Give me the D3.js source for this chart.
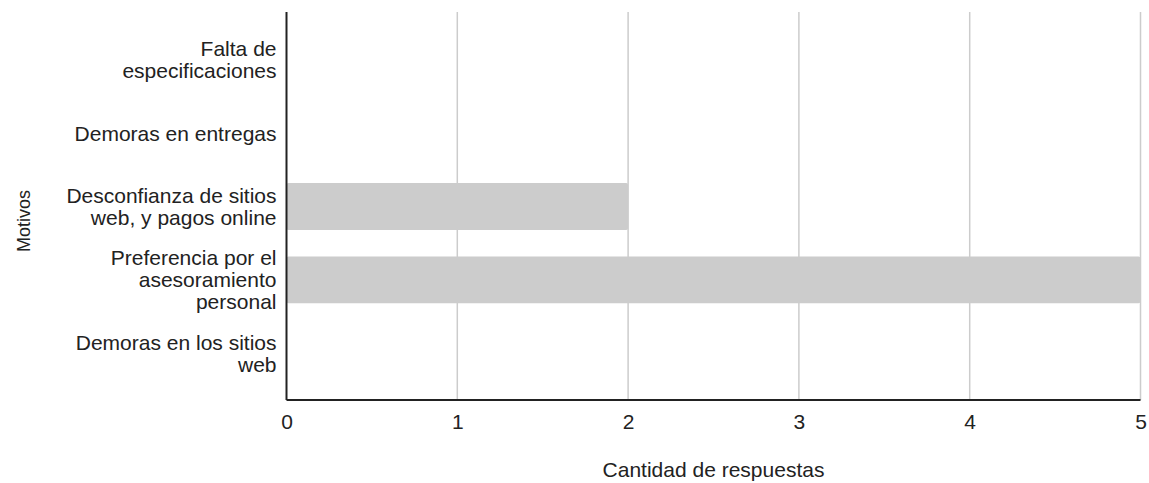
<!DOCTYPE html>
<html>
<head>
<meta charset="utf-8">
<script src="https://cdn.jsdelivr.net/npm/d3@7"></script>
<style>
  html, body { margin: 0; padding: 0; background: #fff; }
  svg { display: block; font-family: "Liberation Sans", Arial, sans-serif; }
</style>
</head>
<body>
<svg id="chart" width="1149" height="483"></svg>
<script>
// Motivos por los que no se compra en línea
const categories = [
  "Falta de especificaciones",
  "Demoras en entregas",
  "Desconfianza de sitios web, y pagos online",
  "Preferencia por el asesoramiento personal",
  "Demoras en los sitios web"
];
const values = [0, 0, 2, 5, 0];
const xTicks = [0, 1, 2, 3, 4, 5];
const xTitle = "Cantidad de respuestas";
const yTitle = "Motivos";

const svg = d3.select("#chart");
const plot = { left: 286.5, right: 1140.5, top: 12, bottom: 400 };
const fontSize = 21;

const x = d3.scaleLinear().domain([0, 5]).range([plot.left, plot.right]);
const y = d3.scaleBand()
  .domain(categories)
  .range([23.3, 389.8])
  .paddingInner(0.36)
  .paddingOuter(0.18);

// vertical gridlines
svg.append("g")
  .selectAll("line")
  .data(xTicks.filter(d => d > 0))
  .join("line")
  .attr("x1", d => x(d)).attr("x2", d => x(d))
  .attr("y1", plot.top).attr("y2", plot.bottom)
  .attr("stroke", "#cccccc")
  .attr("stroke-width", 1.5);

// bars
svg.append("g")
  .selectAll("rect")
  .data(categories.map((c, i) => ({ c, v: values[i] })).filter(d => d.v > 0))
  .join("rect")
  .attr("x", x(0))
  .attr("y", d => y(d.c))
  .attr("width", d => x(d.v) - x(0))
  .attr("height", y.bandwidth())
  .attr("rx", 2)
  .attr("fill", "#cccccc");

// x axis
const xAxis = svg.append("g")
  .attr("transform", `translate(0,${plot.bottom})`)
  .call(d3.axisBottom(x).tickValues(xTicks).tickFormat(d3.format("d")).tickSize(0).tickPadding(14));
xAxis.select(".domain").remove();
xAxis.selectAll("text")
  .attr("font-size", fontSize)
  .attr("font-family", "Liberation Sans, Arial, sans-serif")
  .attr("fill", "#222");

// baselines
svg.append("line")
  .attr("x1", plot.left).attr("x2", plot.right)
  .attr("y1", plot.bottom).attr("y2", plot.bottom)
  .attr("stroke", "#222").attr("stroke-width", 2);
svg.append("line")
  .attr("x1", plot.left).attr("x2", plot.left)
  .attr("y1", plot.top).attr("y2", plot.bottom)
  .attr("stroke", "#222").attr("stroke-width", 2);

// y category labels, wrapped to a fixed width
const maxLabelWidth = 216;
const lineHeight = 22;
const labelG = svg.append("g").attr("font-size", fontSize).attr("fill", "#222").attr("text-anchor", "end");
categories.forEach(cat => {
  const t = labelG.append("text").attr("x", plot.left - 10);
  const words = cat.split(" ");
  const lines = [];
  let cur = [];
  const probe = labelG.append("text").attr("visibility", "hidden");
  words.forEach(w => {
    const test = cur.concat(w).join(" ");
    probe.text(test);
    if (probe.node().getComputedTextLength() > maxLabelWidth && cur.length) {
      lines.push(cur.join(" "));
      cur = [w];
    } else {
      cur.push(w);
    }
  });
  lines.push(cur.join(" "));
  probe.remove();
  const cy = y(cat) + y.bandwidth() / 2;
  const y0 = cy - (lines.length - 1) * lineHeight / 2;
  lines.forEach((ln, i) => {
    t.append("tspan")
      .attr("x", plot.left - 10)
      .attr("y", y0 + i * lineHeight)
      .attr("dy", "0.35em")
      .text(ln);
  });
});

// axis titles
svg.append("text")
  .attr("x", (plot.left + plot.right) / 2)
  .attr("y", 477)
  .attr("text-anchor", "middle")
  .attr("font-size", fontSize)
  .attr("fill", "#222")
  .text(xTitle);

svg.append("text")
  .attr("transform", `translate(30,221) rotate(-90)`)
  .attr("text-anchor", "middle")
  .attr("font-size", 18)
  .attr("fill", "#222")
  .text(yTitle);
</script>
</body>
</html>
